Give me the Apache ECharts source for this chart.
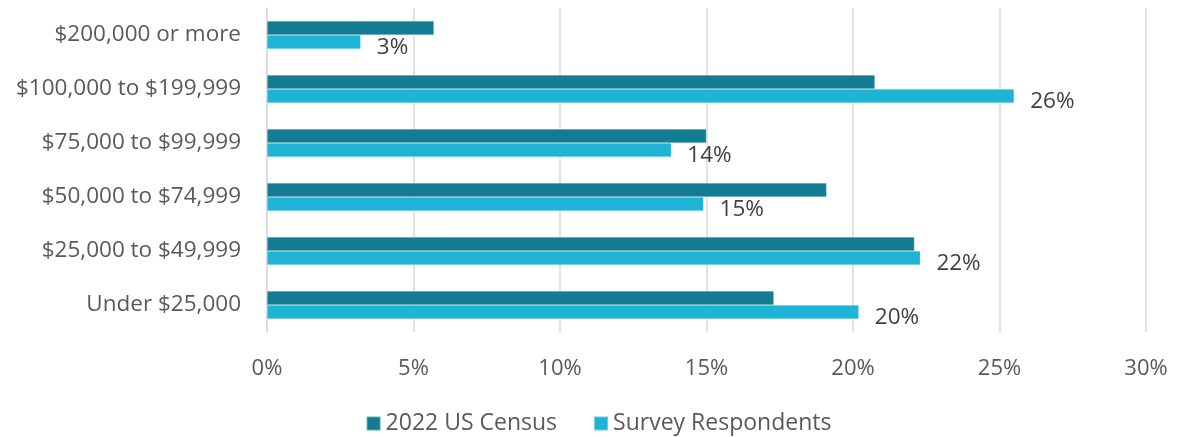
<!DOCTYPE html>
<html>
<head>
<meta charset="utf-8">
<script src="https://cdn.jsdelivr.net/npm/echarts@6/dist/echarts.min.js"></script>
<style>
  html, body { margin: 0; padding: 0; background: #fff; }
  #chart { width: 1197px; height: 437px; }
</style>
</head>
<body>
<div id="chart"></div>
<script>
// income brackets, bottom to top
const categories = ['Under $25,000', '$25,000 to $49,999', '$50,000 to $74,999', '$75,000 to $99,999', '$100,000 to $199,999', '$200,000 or more']
const censusValues = [17.3, 22.1, 19.1, 15.0, 20.75, 5.7]
const surveyValues = [20.2, 22.3, 14.9, 13.8, 25.5, 3.2]
const xTicks = [0, 5, 10, 15, 20, 25, 30]

const font = 'Open Sans'
const chart = echarts.init(document.getElementById('chart'))

chart.setOption({
  animation: false,
  textStyle: { fontFamily: font },
  grid: { left: 267, right: 51, top: 8, bottom: 105, containLabel: false },
  legend: {
    top: 407,
    left: 'center',
    itemWidth: 14,
    itemHeight: 14,
    itemGap: 36,
    icon: 'rect',
    textStyle: { fontSize: 23, color: '#595959', fontFamily: font },
    data: ['2022 US Census', 'Survey Respondents']
  },
  xAxis: {
    type: 'value',
    min: xTicks[0],
    max: xTicks[xTicks.length - 1],
    interval: 5,
    axisLine: { show: false },
    axisTick: { show: false },
    splitLine: { lineStyle: { color: '#d9d9d9', width: 1.5 } },
    axisLabel: { formatter: '{value}%', fontSize: 22, color: '#595959', margin: 26 }
  },
  yAxis: {
    type: 'category',
    data: categories,
    axisLine: { lineStyle: { color: '#d9d9d9', width: 1.5 } },
    axisTick: { show: false },
    axisLabel: { fontSize: 22.5, color: '#595959', margin: 26, padding: [5, 0, 0, 0] }
  },
  series: [
    {
      name: '2022 US Census',
      type: 'bar',
      data: censusValues,
      barWidth: 14,
      barGap: '0%',
      itemStyle: { color: '#137c93', borderColor: 'rgba(255,255,255,0.35)', borderWidth: 0.6 }
    },
    {
      name: 'Survey Respondents',
      type: 'bar',
      data: surveyValues,
      barWidth: 14,
      barGap: '0%',
      itemStyle: { color: '#1fb3d5', borderColor: 'rgba(255,255,255,0.35)', borderWidth: 0.6 },
      label: {
        show: true,
        position: 'right',
        distance: 16,
        offset: [0, 6],
        fontSize: 22.5,
        color: '#404040',
        formatter: p => Math.round(p.value) + '%'
      }
    }
  ]
})
</script>
</body>
</html>
